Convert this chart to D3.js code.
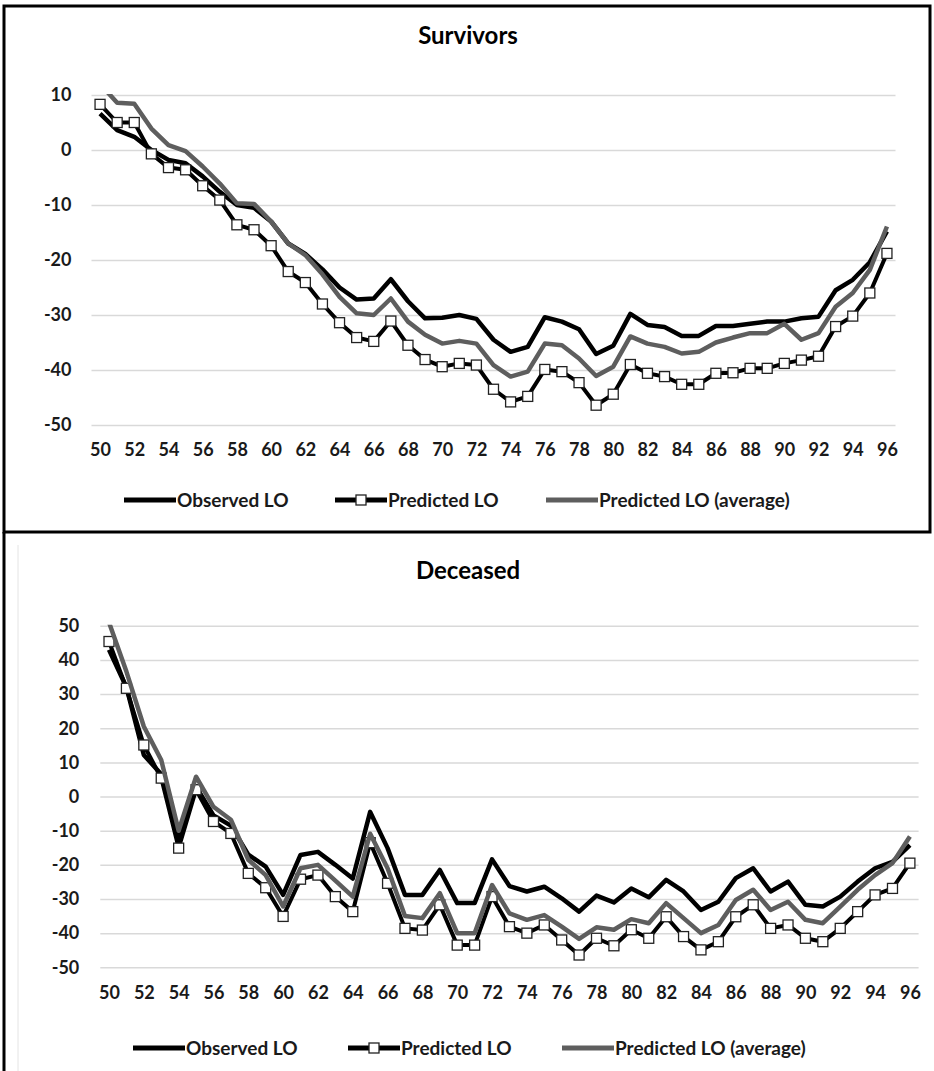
<!DOCTYPE html>
<html>
<head>
<meta charset="utf-8">
<script src="https://cdn.jsdelivr.net/npm/d3@7"></script>
<style>
  body { margin: 0; background: #fff; }
  text { font-family: Lato, "Open Sans", sans-serif; }
</style>
</head>
<body>
<script>
/* DATA */
const years = [50, 51, 52, 53, 54, 55, 56, 57, 58, 59, 60, 61, 62, 63, 64, 65,
  66, 67, 68, 69, 70, 71, 72, 73, 74, 75, 76, 77, 78, 79, 80, 81, 82, 83, 84,
  85, 86, 87, 88, 89, 90, 91, 92, 93, 94, 95, 96];
const xTickLabels = [50, 52, 54, 56, 58, 60, 62, 64, 66, 68, 70, 72, 74, 76,
  78, 80, 82, 84, 86, 88, 90, 92, 94, 96];
const seriesNames = ['Observed LO', 'Predicted LO', 'Predicted LO (average)'];

const survTicks = [10, 0, -10, -20, -30, -40, -50];
const survObserved = [6.6, 3.6, 2.4, 0, -1.8, -2.4, -4.8, -7.6, -10, -10.5,
  -13, -17, -18.9, -21.7, -25, -27.2, -27, -23.5, -27.5, -30.6, -30.5, -30,
  -30.7, -34.5, -36.7, -35.8, -30.4, -31.2, -32.6, -37.1, -35.6, -29.8, -31.8,
  -32.2, -33.8, -33.8, -32, -32, -31.6, -31.2, -31.2, -30.6, -30.3, -25.5,
  -23.6, -20.4, -14.8];
const survPredicted = [8.3, 5, 5, -0.7, -3.2, -3.6, -6.5, -9.1, -13.6, -14.5,
  -17.4, -22.1, -24.1, -28, -31.4, -34.1, -34.8, -31.1, -35.5, -38.1, -39.4,
  -38.8, -39.1, -43.5, -45.8, -44.8, -39.9, -40.3, -42.3, -46.4, -44.4, -39,
  -40.6, -41.2, -42.6, -42.6, -40.6, -40.5, -39.7, -39.7, -38.8, -38.2,
  -37.5, -32.1, -30.2, -26, -18.8];
const survAverage = [12, 8.6, 8.4, 3.9, 0.9, -0.2, -3, -6.1, -9.7, -9.8, -13,
  -17, -19.1, -22.6, -26.7, -29.7, -30, -27, -31.2, -33.6, -35.2, -34.7,
  -35.2, -39.1, -41.2, -40.3, -35.2, -35.5, -37.9, -41.1, -39.4, -33.9,
  -35.2, -35.8, -37, -36.7, -35, -34.1, -33.3, -33.3, -31.6, -34.5, -33.3,
  -28.5, -26, -21.8, -13.9];

const decTicks = [50, 40, 30, 20, 10, 0, -10, -20, -30, -40, -50];
const decObserved = [43, 32, 12.2, 6.5, -12.7, 2.9, -5.5, -8.5, -17, -20.5,
  -28.8, -17.1, -16.2, -20, -24, -4.5, -15.1, -28.8, -28.8, -21.5, -31.2,
  -31.2, -18.4, -26.2, -27.8, -26.4, -29.8, -33.7, -29, -31, -26.9, -29.5,
  -24.4, -27.8, -33.2, -30.8, -23.9, -21, -27.8, -24.9, -31.7, -32.2, -29.3,
  -24.9, -21, -19.1, -14.2];
const decPredicted = [45.4, 31.7, 15.1, 5.4, -15.1, 2, -7.3, -10.8, -22.5,
  -26.7, -35.1, -24.2, -23, -29.3, -33.7, -13.5, -25.4, -38.6, -39.1, -31.7,
  -43.5, -43.5, -29.3, -38.1, -40, -37.6, -42, -46.4, -41.5, -43.7, -39,
  -41.5, -35.2, -41, -44.9, -42.5, -35.2, -31.7, -38.6, -37.6, -41.5, -42.5,
  -38.6, -33.7, -28.8, -26.9, -19.5];
const decAverage = [51, 36.6, 20.5, 10.7, -10, 5.8, -3, -6.8, -18.5, -23,
  -32.2, -21, -20, -24.6, -29.3, -10.9, -21, -35, -35.6, -28.3, -40, -40,
  -25.9, -34.2, -36.1, -34.7, -38.1, -41.7, -38.3, -39, -35.9, -37.1, -31.2,
  -35.6, -40, -37.6, -30.3, -27.3, -33.2, -30.8, -36.1, -37.1, -32.2, -27.3,
  -23, -19.5, -11.7];

const W = 934, H = 1071;
const black = '#000', grey = '#5e5e5e', gridColor = '#d9d9d9';
const fontStack = 'Lato, "Open Sans", sans-serif';

const svg = d3.select('body').append('svg')
  .attr('width', W).attr('height', H)
  .attr('viewBox', [0, 0, W, H]);

// panel frames
svg.append('rect')
  .attr('x', 4).attr('y', 6).attr('width', 926).attr('height', 526)
  .attr('fill', 'none').attr('stroke', black).attr('stroke-width', 3);
svg.append('line')
  .attr('x1', 4).attr('x2', 4).attr('y1', 532).attr('y2', H)
  .attr('stroke', black).attr('stroke-width', 3);
svg.append('line')
  .attr('x1', 18).attr('x2', 18).attr('y1', 545).attr('y2', H)
  .attr('stroke', '#e4e4e4').attr('stroke-width', 1);

function drawPanel(cfg, idx) {
  const g = svg.append('g');

  const xScale = d3.scalePoint()
    .domain(years)
    .range([cfg.left, cfg.right])
    .padding(0.5);

  const yScale = d3.scaleLinear()
    .domain([cfg.ticks[cfg.ticks.length - 1], cfg.ticks[0]])
    .range([cfg.bottom, cfg.top]);

  g.append('text')
    .attr('x', cfg.titleX).attr('y', cfg.titleY)
    .attr('text-anchor', 'middle')
    .attr('font-size', 24).attr('font-weight', 'bold')
    .text(cfg.title);

  // horizontal gridlines + y labels via axis (plain hyphen like Excel)
  const yAxis = d3.axisLeft(yScale)
    .tickValues(cfg.ticks)
    .tickFormat(d => String(d))
    .tickSize(-(cfg.right - cfg.left))
    .tickPadding(cfg.yPad);
  const yg = g.append('g')
    .attr('transform', `translate(${cfg.left} 0)`)
    .call(yAxis);
  yg.select('.domain').remove();
  yg.selectAll('line').attr('stroke', gridColor).attr('stroke-width', 1.5);
  yg.selectAll('text')
    .attr('font-size', 18).attr('font-weight', 'bold').attr('fill', '#1a1a1a')
    .attr('font-family', fontStack);

  const xAxis = d3.axisBottom(xScale)
    .tickValues(xTickLabels)
    .tickSize(0)
    .tickPadding(cfg.xPad);
  const xg = g.append('g')
    .attr('transform', `translate(0 ${cfg.bottom})`)
    .call(xAxis);
  xg.select('.domain').remove();
  xg.selectAll('text')
    .attr('font-size', 18).attr('font-weight', 'bold').attr('fill', '#1a1a1a')
    .attr('font-family', fontStack);

  const clipId = 'clip' + idx;
  g.append('clipPath').attr('id', clipId)
    .append('rect')
    .attr('x', cfg.left - 10).attr('y', cfg.top - 1)
    .attr('width', cfg.right - cfg.left + 20)
    .attr('height', cfg.bottom - cfg.top + 12);

  const line = d3.line()
    .x((d, i) => xScale(years[i]))
    .y(d => yScale(d));

  const plot = g.append('g').attr('clip-path', `url(#${clipId})`);

  plot.append('path')
    .attr('d', line(cfg.observed))
    .attr('fill', 'none').attr('stroke', black)
    .attr('stroke-width', 4.5).attr('stroke-linejoin', 'round');

  plot.append('path')
    .attr('d', line(cfg.predicted))
    .attr('fill', 'none').attr('stroke', black)
    .attr('stroke-width', 4).attr('stroke-linejoin', 'round');

  plot.selectAll('rect.mk')
    .data(cfg.predicted)
    .join('rect')
    .attr('class', 'mk')
    .attr('x', (d, i) => xScale(years[i]) - 5)
    .attr('y', d => yScale(d) - 5)
    .attr('width', 10).attr('height', 10)
    .attr('fill', '#fff').attr('stroke', '#222').attr('stroke-width', 1.3);

  plot.append('path')
    .attr('d', line(cfg.average))
    .attr('fill', 'none').attr('stroke', grey)
    .attr('stroke-width', 4.5).attr('stroke-linejoin', 'round');

  // legend
  const lg = g.append('g').attr('transform', `translate(0 ${cfg.legendY})`);
  const colors = [black, black, grey];
  seriesNames.forEach((name, i) => {
    const x0 = cfg.legendX[i];
    lg.append('line')
      .attr('x1', x0).attr('x2', x0 + 52)
      .attr('y1', 0).attr('y2', 0)
      .attr('stroke', colors[i]).attr('stroke-width', 5);
    if (i === 1) {
      lg.append('rect')
        .attr('x', x0 + 21).attr('y', -5)
        .attr('width', 10).attr('height', 10)
        .attr('fill', '#fff').attr('stroke', '#222').attr('stroke-width', 1.3);
    }
    lg.append('text')
      .attr('x', x0 + 53).attr('y', 0)
      .attr('dy', '0.35em')
      .attr('font-size', 19).attr('font-weight', 'bold').attr('fill', '#1a1a1a')
      .text(name);
  });
}

drawPanel({
  title: 'Survivors', titleX: 468, titleY: 44,
  left: 91.5, right: 895.5, top: 95, bottom: 425,
  ticks: survTicks, yPad: 20, xPad: 18,
  observed: survObserved, predicted: survPredicted, average: survAverage,
  legendY: 500, legendX: [124, 335, 546]
}, 0);

drawPanel({
  title: 'Deceased', titleX: 468, titleY: 579,
  left: 100.3, right: 918.6, top: 625.8, bottom: 967.3,
  ticks: decTicks, yPad: 21, xPad: 19,
  observed: decObserved, predicted: decPredicted, average: decAverage,
  legendY: 1048, legendX: [133, 348, 562]
}, 1);
</script>
</body>
</html>
